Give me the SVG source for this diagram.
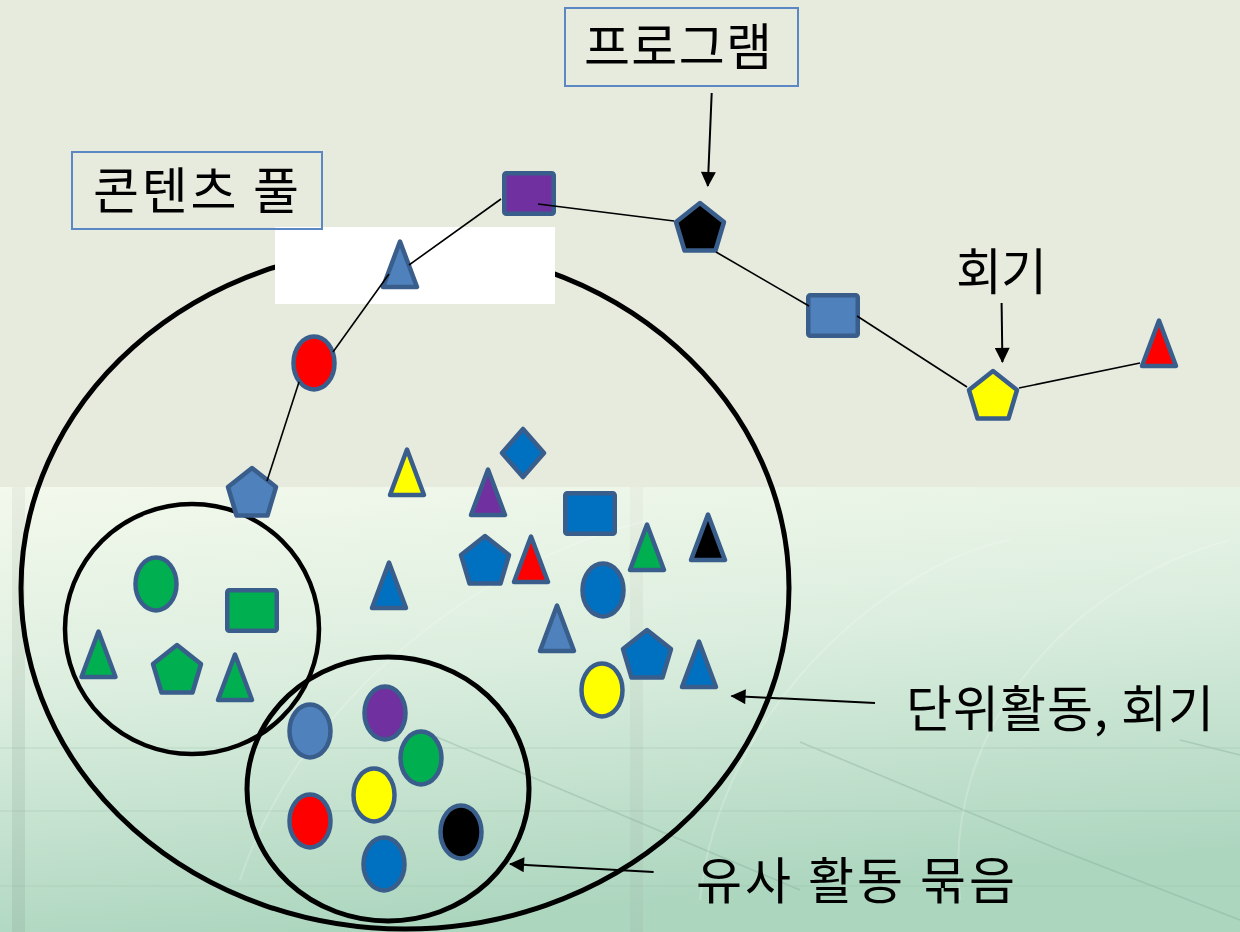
<svg xmlns="http://www.w3.org/2000/svg" xmlns:xlink="http://www.w3.org/1999/xlink" width="1240" height="932" viewBox="0 0 1240 932">
<defs>
<style>
.sh{stroke:#3A5E8C;stroke-width:4.5;stroke-linejoin:round}
.conn{stroke:#000;stroke-width:1.6;fill:none}
.arr{stroke:#000;stroke-width:2;fill:none}
.ring{fill:none;stroke:#000}
.lbl{fill:none;stroke:#5B87C5;stroke-width:2}
.t{font-family:"Noto Sans CJK KR","Noto Sans",sans-serif;font-size:50px;fill:#000}
.blue{fill:#0070C0}.lb{fill:#4F81BD}.grn{fill:#00B050}.pur{fill:#7030A0}.red{fill:#FF0000}.yel{fill:#FFFF00}.blk{fill:#000}
</style>
<linearGradient id="bgLow" x1="0" y1="0" x2="0.25" y2="1">
<stop offset="0" stop-color="#F3F9EC"/>
<stop offset="0.45" stop-color="#DCEEDF"/>
<stop offset="1" stop-color="#ADD6BF"/>
</linearGradient>
<linearGradient id="strip" x1="0" y1="0" x2="0" y2="1">
<stop offset="0" stop-color="#E4E9DD"/>
<stop offset="1" stop-color="#A3C6B2"/>
</linearGradient>
<marker id="ah" viewBox="0 0 16 16" refX="15" refY="8" markerWidth="16" markerHeight="15" markerUnits="userSpaceOnUse" orient="auto">
<path d="M0,0 L16,8 L0,16 Z" fill="#000"/>
</marker>
<path id="tri" d="M0,2.5 L17,48 L-17,48 Z"/>
<path id="pent" d="M0,3 L24,22 L15.5,50.5 L-15.5,50.5 L-24,22 Z"/>
<rect id="sq" x="2.25" y="2.25" width="49.5" height="40.5" rx="2"/>
<ellipse id="ov" cx="0" cy="0" rx="20.5" ry="26.5"/>
</defs>

<g id="background">
<rect x="0" y="0" width="1240" height="932" fill="#E6EBDE"/>
<rect x="0" y="487" width="1240" height="445" fill="url(#bgLow)"/>
<rect x="12" y="487" width="13" height="445" fill="url(#strip)" opacity="0.7"/>
<rect x="630" y="487" width="13" height="445" fill="url(#strip)" opacity="0.5"/>
<g stroke="#7FA793" stroke-width="1.5" fill="none" opacity="0.35">
<line x1="800" y1="742" x2="1060" y2="850"/>
<line x1="1060" y1="850" x2="1240" y2="920"/>
<line x1="420" y1="730" x2="800" y2="890"/>
<line x1="1180" y1="740" x2="1240" y2="755"/>
<line x1="0" y1="748" x2="1240" y2="748" opacity="0.5"/>
<line x1="0" y1="811" x2="1240" y2="811" opacity="0.5"/>
<line x1="0" y1="886" x2="1240" y2="886" opacity="0.4"/>
</g>
<g stroke="#FFFFFF" stroke-width="2" fill="none" opacity="0.2">
<path d="M700,900 C720,700 900,560 1010,540"/>
<path d="M960,900 C940,720 1080,580 1230,540"/>
<path d="M240,880 C300,700 480,560 650,520"/>
</g>
</g>

<g id="content-pool-circle"><ellipse class="ring" cx="405" cy="588" rx="384" ry="341" stroke-width="5"/></g>
<g id="white-patch"><rect x="275" y="227" width="280" height="77" fill="#FFFFFF"/></g>
<g id="similar-group-1"><ellipse class="ring" cx="192" cy="629" rx="127" ry="125" stroke-width="4.5"/></g>
<g id="similar-group-2"><ellipse class="ring" cx="388" cy="789" rx="141" ry="132" stroke-width="5"/></g>

<g id="label-content-pool">
<rect class="lbl" x="72" y="152" width="250" height="77"/>
<text class="t" x="93" y="209" textLength="206" lengthAdjust="spacing">콘텐츠 풀</text>
</g>
<g id="label-program">
<rect class="lbl" x="565" y="8" width="233" height="78"/>
<text class="t" x="584" y="65" textLength="188" lengthAdjust="spacing">프로그램</text>
</g>
<g id="label-session"><text class="t" x="956" y="290" textLength="91" lengthAdjust="spacing">회기</text></g>
<g id="label-unit"><text class="t" x="906" y="727" textLength="308" lengthAdjust="spacing">단위활동, 회기</text></g>
<g id="label-similar"><text class="t" x="696" y="899" textLength="319" lengthAdjust="spacing">유사 활동 묶음</text></g>

<g id="path-nodes">
<use href="#sq" class="sh pur" x="502" y="171"/>
<use href="#pent" class="sh blk" x="700" y="200"/>
<use href="#sq" class="sh lb" x="806" y="293"/>
<use href="#pent" class="sh yel" x="993" y="368"/>
<use href="#tri" class="sh red" x="1159" y="318"/>
<use href="#tri" class="sh lb" x="400" y="239"/>
<use href="#ov" class="sh red" x="314" y="363"/>
<use href="#pent" class="sh lb" x="252" y="465"/>
</g>

<g id="pool-nodes">
<use href="#tri" class="sh yel" x="407" y="447"/>
<path class="sh blue" d="M523,429 L544,453 L523,477 L502,453 Z"/>
<use href="#tri" class="sh pur" x="488" y="467"/>
<use href="#sq" class="sh blue" x="563" y="491"/>
<use href="#pent" class="sh blue" x="485" y="533"/>
<use href="#tri" class="sh red" x="531" y="534"/>
<use href="#tri" class="sh blue" x="389" y="560"/>
<use href="#ov" class="sh blue" x="603" y="590"/>
<use href="#tri" class="sh grn" x="647" y="522"/>
<use href="#tri" class="sh blk" x="708" y="512"/>
<use href="#tri" class="sh lb" x="557" y="603"/>
<use href="#pent" class="sh blue" x="647" y="627"/>
<use href="#tri" class="sh blue" x="699" y="639"/>
<use href="#ov" class="sh yel" x="602" y="690"/>
</g>

<g id="group1-nodes">
<use href="#ov" class="sh grn" x="156" y="584"/>
<use href="#sq" class="sh grn" x="225" y="588"/>
<use href="#tri" class="sh grn" x="98.5" y="629"/>
<use href="#pent" class="sh grn" x="177" y="642"/>
<use href="#tri" class="sh grn" x="235" y="652"/>
</g>

<g id="group2-nodes">
<use href="#ov" class="sh lb" x="310" y="731"/>
<use href="#ov" class="sh pur" x="385" y="713"/>
<use href="#ov" class="sh grn" x="421" y="758"/>
<use href="#ov" class="sh yel" x="374" y="795"/>
<use href="#ov" class="sh red" x="310" y="821"/>
<use href="#ov" class="sh blk" x="461" y="832"/>
<use href="#ov" class="sh blue" x="384" y="864"/>
</g>

<g id="connectors">
<line class="conn" x1="538" y1="204" x2="674" y2="221"/>
<line class="conn" x1="716" y1="252" x2="809" y2="306"/>
<line class="conn" x1="857" y1="316" x2="967" y2="387"/>
<line class="conn" x1="1019" y1="388" x2="1140" y2="363"/>
<line class="conn" x1="501" y1="199" x2="409" y2="265"/>
<line class="conn" x1="389" y1="274" x2="333" y2="352"/>
<line class="conn" x1="299" y1="382" x2="267" y2="481"/>
<line class="arr" x1="711.7" y1="93" x2="707.8" y2="186" marker-end="url(#ah)"/>
<line class="arr" x1="1001.6" y1="303" x2="1002.4" y2="362" marker-end="url(#ah)"/>
<line class="arr" x1="875" y1="703" x2="731.5" y2="696" marker-end="url(#ah)"/>
<line class="arr" x1="653.6" y1="872" x2="510" y2="864" marker-end="url(#ah)"/>
</g>
</svg>
